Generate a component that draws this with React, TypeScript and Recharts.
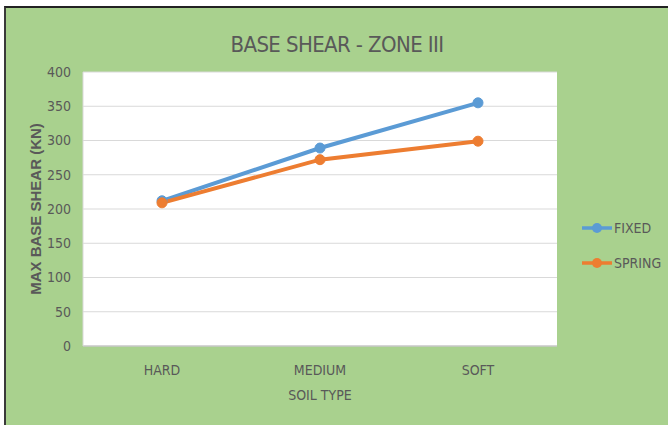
import { LineChart, Line, XAxis, YAxis, CartesianGrid } from 'recharts'

const soilTypes = ['HARD', 'MEDIUM', 'SOFT']
const fixedShear = [212, 289, 355]
const springShear = [209, 272, 299]
const yTicks = [0, 50, 100, 150, 200, 250, 300, 350, 400]

const chartData = soilTypes.map((soil, i) => ({
  soil,
  FIXED: fixedShear[i],
  SPRING: springShear[i],
}))

const FONT = "'Liberation Sans Narrow', 'DejaVu Sans Condensed', 'Liberation Sans', sans-serif"
const TEXT = '#595959'
const BLUE = '#5b9bd5'
const ORANGE = '#ed7d31'

const legendItems = [
  { name: 'FIXED', color: BLUE },
  { name: 'SPRING', color: ORANGE },
]

function LegendBox() {
  return (
    <div style={{ position: 'absolute', left: 581, top: 210 }}>
      {legendItems.map(item => (
        <div key={item.name} style={{ display: 'flex', alignItems: 'center', height: 35 }}>
          <svg width={32} height={18} style={{ display: 'block' }}>
            <line x1={1} y1={9} x2={31} y2={9} stroke={item.color} strokeWidth={3.5} />
            <circle cx={16} cy={9} r={5} fill={item.color} />
          </svg>
          <span style={{ fontFamily: FONT, fontSize: 14, color: TEXT, marginLeft: 1, lineHeight: '18px' }}>
            {item.name}
          </span>
        </div>
      ))}
    </div>
  )
}

export default function App() {
  return (
    <div style={{ position: 'absolute', left: 0, top: 0, width: 668, height: 425, background: '#fff', overflow: 'hidden' }}>
      <div
        style={{
          position: 'absolute',
          left: 4,
          top: 6,
          right: 0,
          bottom: 0,
          background: '#a9d18e',
          borderTop: '2px solid #222',
          borderLeft: '2px solid #3a3a3a',
        }}
      />
      <div
        style={{
          position: 'absolute',
          left: 6,
          width: 662,
          top: 32,
          textAlign: 'center',
          fontFamily: FONT,
          fontSize: 22,
          letterSpacing: -0.6,
          color: TEXT,
        }}
      >
        BASE SHEAR - ZONE III
      </div>
      <div style={{ position: 'absolute', left: 0, top: 0 }}>
        <LineChart width={668} height={425} data={chartData} margin={{ top: 72, right: 111, bottom: 49, left: 0 }}>
          <CartesianGrid vertical={false} stroke="#d9d9d9" fill="#fff" />
          <XAxis
            dataKey="soil"
            padding={{ left: 79, right: 79 }}
            height={30}
            tickLine={false}
            axisLine={{ stroke: '#bfbfbf' }}
            tick={{ fill: TEXT, fontSize: 14, fontFamily: FONT }}
            tickMargin={13}
            label={{ value: 'SOIL TYPE', position: 'insideBottom', offset: -24, fill: TEXT, fontSize: 14, fontFamily: FONT }}
          />
          <XAxis xAxisId="top" orientation="top" height={0} tick={false} tickLine={false} axisLine={{ stroke: '#d9d9d9' }} />
          <YAxis
            domain={[0, 400]}
            ticks={yTicks}
            width={83}
            tickLine={false}
            axisLine={{ stroke: '#d9d9d9' }}
            tick={{ fill: TEXT, fontSize: 14, fontFamily: FONT }}
            tickMargin={6}
            label={{
              value: 'MAX BASE SHEAR (KN)',
              angle: -90,
              position: 'center',
              dx: -6,
              fill: TEXT,
              fontSize: 15,
              fontWeight: 'bold',
              fontFamily: "'Liberation Sans', sans-serif",
            }}
          />
          <YAxis yAxisId="right" orientation="right" width={0} tick={false} tickLine={false} axisLine={{ stroke: '#d9d9d9' }} />
          <Line dataKey="FIXED" stroke={BLUE} strokeWidth={4} dot={{ r: 5, fill: BLUE, stroke: BLUE, strokeWidth: 1 }} isAnimationActive={false} />
          <Line dataKey="SPRING" stroke={ORANGE} strokeWidth={4} dot={{ r: 5, fill: ORANGE, stroke: ORANGE, strokeWidth: 1 }} isAnimationActive={false} />
        </LineChart>
      </div>
      <LegendBox />
    </div>
  )
}
